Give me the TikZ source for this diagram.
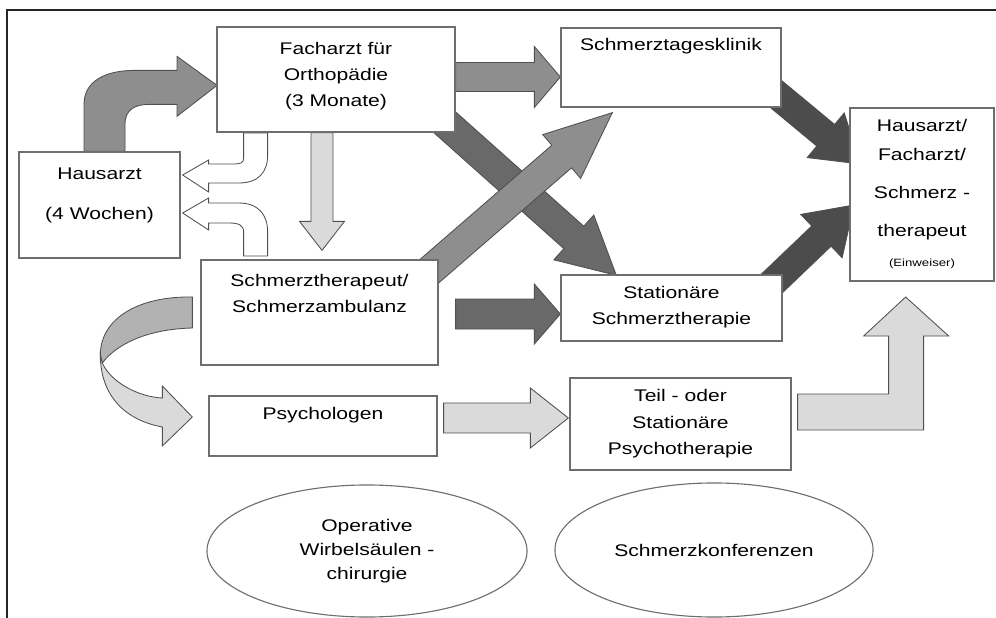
\documentclass[tikz,border=0pt]{standalone}
\usepackage{fontspec}
\setmainfont{Liberation Sans}[FakeStretch=1.25]
\usetikzlibrary{positioning,calc,shapes.geometric,backgrounds}

\definecolor{boxline}{HTML}{6E6E6E}
\definecolor{arrowline}{HTML}{4F4F4F}
\definecolor{arrowmid}{HTML}{8E8E8E}
\definecolor{arrowdark}{HTML}{696969}
\definecolor{arrowdarker}{HTML}{4C4C4C}
\definecolor{arrowlight}{HTML}{DADADA}
\definecolor{arrowfold}{HTML}{B2B2B2}

\newcommand{\px}{0.025cm}

% ---------------------------------------------------------
% Straight block arrow
% #1 = fill colour
% #2 = tail coordinate
% #3 = tip coordinate
% #4 = half shaft width (px)
% #5 = half head width (px)
% #6 = head length (px)
% ---------------------------------------------------------
\newcommand{\blockarrow}[6]{
    \coordinate (headbase) at ($(#3)!#6*\px!(#2)$);
    \filldraw[arrowbody, fill=#1]
        ($(#2)!#4*\px!90:(#3)$) -- ($(headbase)!#4*\px!90:(#3)$)
        -- ($(headbase)!#5*\px!90:(#3)$) -- (#3)
        -- ($(headbase)!#5*\px!-90:(#3)$) -- ($(headbase)!#4*\px!-90:(#3)$)
        -- ($(#2)!#4*\px!-90:(#3)$) -- cycle;
}

\begin{document}
\begin{tikzpicture}[
        x=0.025cm,
        y=-0.025cm,
        box/.style={
            draw=boxline,
            line width=0.9pt,
            fill=white,
            inner sep=0pt
        },
        ellbox/.style={
            ellipse,
            draw=boxline,
            line width=0.8pt,
            inner sep=0pt,
            align=center,
            font=\fontsize{12}{17}\selectfont
        },
        lbl/.style={
            inner sep=0pt,
            align=center,
            font=\fontsize{12}{18.5}\selectfont
        },
        arrowbody/.style={
            draw=arrowline,
            line width=0.6pt
        },
        hollowarrow/.style={
            draw=arrowline,
            line width=0.6pt,
            fill=white
        },
        frameline/.style={
            draw=black!85,
            line width=1.2pt
        }
    ]

    \useasboundingbox (0,0) rectangle (996,618);

    % Frame
    \draw[frameline] (7,618) -- (7,10) -- (996,10);

    % ---------------------------------------------------------
    % Boxes and labels
    % ---------------------------------------------------------
    \node[box, minimum width=5.95cm, minimum height=2.625cm] (fach) at (336,79.5) {};
    \node[lbl, below=11.4pt of fach.north] (fachtxt) {Facharzt für\\Orthopädie\\(3 Monate)};

    \node[box, minimum width=5.5cm, minimum height=1.975cm] (tages) at (671,67.5) {};
    \node[lbl, below=7.8pt of tages.north] (tagestxt) {Schmerztagesklinik};

    \node[box, minimum width=4.025cm, minimum height=2.65cm] (haus) at (99.5,205) {};
    \node[lbl, below=11.4pt of haus.north, font=\fontsize{12}{28.5}\selectfont] (haustxt) {Hausarzt\\(4 Wochen)};

    \node[box, minimum width=5.925cm, minimum height=2.625cm] (ther) at (319.5,312.5) {};
    \node[lbl, below=10.7pt of ther.north] (thertxt) {Schmerztherapeut/\\Schmerzambulanz};

    \node[box, minimum width=5.525cm, minimum height=1.65cm] (stat) at (671.5,308) {};
    \node[lbl, below=8.5pt of stat.north] (stattxt) {Stationäre\\Schmerztherapie};

    \node[box, minimum width=3.6cm, minimum height=4.325cm] (einw) at (922,194.5) {};
    \node[lbl, below=8.5pt of einw.north, font=\fontsize{12}{20.6}\selectfont] (einwtxt)
        {Hausarzt/\\Facharzt/\\[6.4pt]Schmerz -\\[6.4pt]therapeut\\[0.7pt]{\fontsize{7.5}{9}\selectfont (Einweiser)}};

    \node[box, minimum width=5.7cm, minimum height=1.5cm] (psych) at (323,426) {};
    \node[lbl, below=8.5pt of psych.north] (psychtxt) {Psychologen};

    \node[box, minimum width=5.525cm, minimum height=2.3cm] (teil) at (680.5,424) {};
    \node[lbl, below=8.5pt of teil.north, font=\fontsize{12}{18.85}\selectfont] (teiltxt) {Teil - oder\\Stationäre\\Psychotherapie};

    \node[ellbox, minimum width=8cm, minimum height=3.3cm] (opwirb) at (367,551) {Operative\\Wirbelsäulen -\\chirurgie};
    \node[ellbox, minimum width=7.95cm, minimum height=3.35cm] (konf) at (714,550) {Schmerzkonferenzen};

    % ---------------------------------------------------------
    % Arrow ends
    % ---------------------------------------------------------
    \coordinate (ftTail) at ($(fach.east)+(0,-2.5)$);
    \coordinate (ftTip) at ($(tages.west)+(0,9.5)$);
    \coordinate (fsTail) at ($(fach.south east)+(-15,-14)$);
    \coordinate (fsTip) at ($(stat.north west)+(56,1)$);
    \coordinate (ttTail) at ($(ther.north east)+(-13,15)$);
    \coordinate (ttTip) at ($(tages.south west)+(52,5)$);
    \coordinate (teTail) at ($(tages.south east)+(-17,-23)$);
    \coordinate (teTip) at ($(einw.west)+(11,-30.5)$);
    \coordinate (seTail) at ($(stat.north east)+(-29,26.5)$);
    \coordinate (seTip) at ($(einw.west)+(4.6,10.5)$);
    \coordinate (tsTail) at ($(ther.east)+(17,1.5)$);
    \coordinate (tsTip) at ($(stat.west)+(0,6)$);
    \coordinate (fthTail) at ($(fach.south)+(-14,0)$);
    \coordinate (fthTip) at ($(ther.north)+(2.5,-9)$);
    \coordinate (ptTail) at ($(psych.east)+(6,-8)$);
    \coordinate (ptTip) at ($(teil.west)+(-1,-6)$);

    % ---------------------------------------------------------
    % Arrows (behind the boxes)
    % ---------------------------------------------------------
    \begin{pgfonlayer}{background}

    \blockarrow{arrowmid}{ftTail}{ftTip}{14.5}{30.5}{26}
    \blockarrow{arrowdark}{fsTail}{fsTip}{15}{30}{57}
    \blockarrow{arrowmid}{ttTail}{ttTip}{15}{29}{67}
    \blockarrow{arrowdarker}{teTail}{teTip}{14}{29}{45}
    \blockarrow{arrowdarker}{seTail}{seTip}{14}{30}{45}
    \blockarrow{arrowdark}{tsTail}{tsTip}{15}{30}{26}
    \blockarrow{arrowlight}{fthTail}{fthTip}{11}{22.5}{29}
    \blockarrow{arrowlight}{ptTail}{ptTip}{15}{30}{38}

    % Hausarzt up to Facharzt
    \begin{scope}[shift={(haus.north)}]
        \filldraw[arrowbody, fill=arrowmid]
            (-15.5,0) -- (-15.5,-47)
            .. controls (-15.5,-70) and (5.5,-81) .. (35.5,-81)
            -- (77.5,-81) -- (77.5,-95) -- (117.5,-66) -- (77.5,-35) -- (77.5,-47) -- (50.5,-47)
            .. controls (35.5,-47) and (25.5,-42) .. (25.5,-27)
            -- (25.5,0) -- cycle;
    \end{scope}

    % back to Hausarzt
    \begin{scope}[shift={(haus.east)}]
        \filldraw[hollowarrow]
            (63,-72) -- (63,-47)
            .. controls (63,-42) and (60,-41) .. (52,-41)
            -- (28,-41) -- (28,-45) -- (2,-30) -- (28,-13) -- (28,-22) -- (58,-22)
            .. controls (78,-22) and (87,-33) .. (87,-50)
            -- (87,-72) -- cycle;
        \filldraw[hollowarrow]
            (63,51) -- (63,27)
            .. controls (63,20) and (58,18) .. (48,18)
            -- (28,18) -- (28,25) -- (2,8) -- (28,-7) -- (28,-2) -- (58,-2)
            .. controls (78,-2) and (87,10) .. (87,27)
            -- (87,51) -- cycle;
    \end{scope}

    % Schmerztherapeut round to Psychologen
    \begin{scope}[shift={(ther.west)}]
        \filldraw[arrowbody, fill=arrowfold]
            (-8,-15.5) .. controls (-61,-16.5) and (-100,5.5) .. (-100,42.5)
            -- (-98,50.5) .. controls (-83,30.5) and (-51,16.5) .. (-8,15.5) -- cycle;
        \filldraw[arrowbody, fill=arrowlight]
            (-100,42.5) -- (-98,50.5)
            .. controls (-89,70.5) and (-61,84.5) .. (-38,85.5)
            -- (-38,73.5) -- (-8,104.5) -- (-38,133.5) -- (-38,114.5)
            .. controls (-76,107.5) and (-100,82.5) .. (-100,42.5) -- cycle;
    \end{scope}

    % Psychotherapie up to Einweiser
    \begin{scope}[shift={(teil.east)}]
        \filldraw[arrowbody, fill=arrowlight]
            (6,-30) -- (97,-30) -- (97,-88) -- (72,-88) -- (114,-127) -- (157,-88)
            -- (132,-88) -- (132,6) -- (6,6) -- cycle;
    \end{scope}

    \end{pgfonlayer}

\end{tikzpicture}
\end{document}
